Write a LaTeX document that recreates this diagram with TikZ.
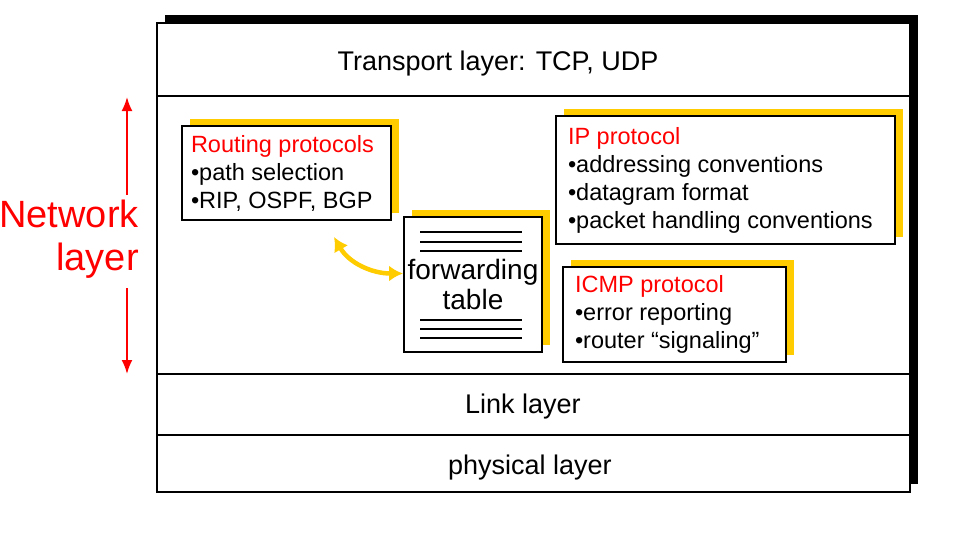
\documentclass[tikz,border=0pt]{standalone}
\usepackage{fontspec}
\setmainfont{Liberation Sans}
\usetikzlibrary{positioning,arrows.meta,shadows,backgrounds}
\definecolor{nlRed}{HTML}{FF0000}
\definecolor{nlYellow}{HTML}{FFCC00}
\tikzset{
  layer/.style={rectangle, draw=black, line width=1.8pt, fill=white,
    minimum width=753pt, inner sep=0pt, outer sep=0pt},
  layerlbl/.style={font=\fontsize{27}{30}\selectfont, inner sep=0pt},
  protobox/.style={rectangle, draw=black, line width=2pt, fill=white,
    align=flush left, anchor=north west, inner ysep=0pt,
    font=\fontsize{23.5}{28}\selectfont,
    general shadow={fill=nlYellow, shadow xshift=8pt, shadow yshift=7pt}},
  tableline/.style={line width=1.4pt, black},
  netarrow/.style={-{Latex[length=14pt,width=11pt]}, line width=2pt, nlRed},
  syncarrow/.style={{Latex[length=14pt,width=16pt]}-{Latex[length=14pt,width=16pt]},
    line width=4.5pt, nlYellow},
}

\begin{document}
\begin{tikzpicture}[x=1pt, y=-1pt]
\useasboundingbox (0,0) rectangle (954,538);

% ---------- protocol stack ----------
\node[layer, minimum height=73pt, anchor=north west] (transport) at (157,23) {};
\node[layer, minimum height=278pt, below=0pt of transport] (network) {};
\node[layer, minimum height=61pt, below=0pt of network] (link) {};
\node[layer, minimum height=57pt, below=0pt of link] (physical) {};

\begin{pgfonlayer}{background}
  \fill[black] ([shift={(8pt,8pt)}]transport.north west)
    rectangle ([shift={(8pt,8pt)}]physical.south east);
\end{pgfonlayer}

\node[layerlbl] (transport-t) at (498,64) {Transport layer: TCP, UDP};
\node[layerlbl] (link-t) at (523,407) {Link layer};
\node[layerlbl] (physical-t) at (530,468) {physical layer};

% ---------- Network layer label ----------
\node[anchor=east, align=right, text=nlRed, inner sep=0pt,
      font=\fontsize{38}{43}\selectfont] (netlbl) at (139,239) {Network\\layer};
\coordinate (netup-s) at (127,195);
\coordinate (netup-e) at (127,97);
\coordinate (netdn-s) at (127,288);
\coordinate (netdn-e) at (127,374);
\draw[netarrow] (netup-s) -- (netup-e);
\draw[netarrow] (netdn-s) -- (netdn-e);

% ---------- Routing protocols ----------
\node[protobox, minimum width=209pt, minimum height=94pt, inner xsep=9pt,
      text width=191pt] (routing) at (181,125)
  {{\color{nlRed}Routing protocols}\\
   •path selection\\
   •RIP, OSPF, BGP};

% ---------- forwarding table ----------
\node[protobox, minimum width=138pt, minimum height=135pt, inner xsep=0pt,
      align=center, font=\fontsize{28}{30}\selectfont] (fwd) at (403,216)
  {forwarding\\table};
\foreach \dy in {16,26,35,104,113,122}
  \draw[tableline] ([xshift=17pt,yshift=-\dy pt]fwd.north west) -- ++(102,0);

% ---------- IP protocol ----------
\node[protobox, minimum width=339pt, minimum height=128pt, inner xsep=12pt,
      text width=315pt] (ip) at (555,115)
  {{\color{nlRed}IP protocol}\\
   •addressing conventions\\
   •datagram format\\
   •packet handling conventions};

% ---------- ICMP protocol ----------
\node[protobox, minimum width=223pt, minimum height=95pt, inner xsep=12pt,
      text width=199pt] (icmp) at (562,266)
  {{\color{nlRed}ICMP protocol}\\
   •error reporting\\
   •router “signaling”};

% routing <-> forwarding table
\draw[syncarrow] ([xshift=-58pt,yshift=-16pt]routing.south east)
  to[out=-60, in=180] ([yshift=11pt]fwd.west);

\end{tikzpicture}
\end{document}
